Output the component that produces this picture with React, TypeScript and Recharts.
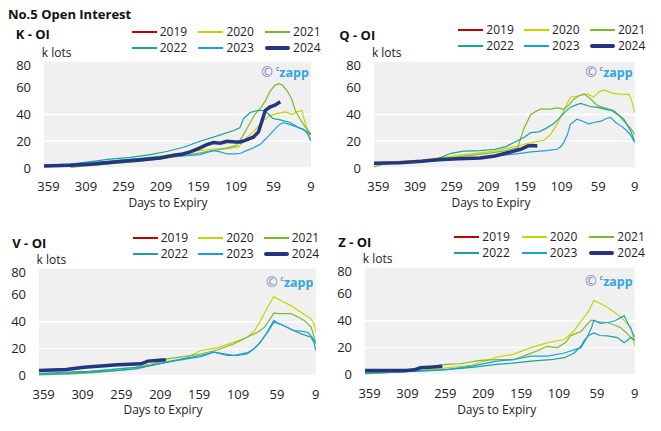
import { CartesianGrid, Line, LineChart, XAxis, YAxis } from 'recharts';

type Pt = [number, number];

const YEARS = ['2019', '2020', '2021', '2022', '2023', '2024'];
const COLORS = ['#c00000', '#c8d400', '#7cb82f', '#17a596', '#1c9fe0', '#253580'];
const X_TICKS = [359, 309, 259, 209, 159, 109, 59, 9];
const Y_TICKS = [0, 20, 40, 60, 80];

// [days to expiry, k lots]
const K_2019: Pt[] = [];
const K_2020: Pt[] = [[365, 1.5], [330, 2.5], [300, 3.5], [270, 5], [240, 7], [209, 9], [180, 11], [160, 13], [140, 14], [120, 14.5], [105, 16], [99, 20.7], [86, 27], [72, 35.6], [64, 39], [55, 40.6], [43, 42], [34, 40], [28, 42], [21, 43], [17, 34], [9, 21]];
const K_2021: Pt[] = [[330, 0.5], [300, 2], [270, 3.5], [240, 5], [209, 7], [180, 9], [160, 11], [140, 13], [120, 15], [108, 17], [100, 24], [92, 32], [84, 40], [76, 45], [70, 50], [64, 57], [57, 62], [52, 63], [47, 62], [40, 57], [35, 52], [30, 43], [24, 37], [17, 31], [9, 25]];
const K_2022: Pt[] = [[365, 2], [330, 3], [300, 5], [280, 6.5], [250, 8], [223, 10], [200, 12.5], [179, 15.5], [157, 20], [134, 24], [112, 28], [104, 30], [99, 37], [90, 41.5], [80, 43], [72, 43], [65, 40], [60, 37], [50, 36], [37, 34], [28, 31], [21, 29], [15, 27.5], [9, 25]];
const K_2023: Pt[] = [[365, 2], [330, 3], [300, 4], [270, 5.5], [240, 7], [209, 8.5], [180, 9], [157, 10], [145, 12], [139, 13], [130, 12], [121, 10.5], [110, 10.5], [103, 11], [95, 13], [86, 15], [76, 18], [68, 22.5], [59, 28], [52, 32], [46, 34], [40, 33], [32, 31.5], [25, 30], [19, 29], [14, 26], [9, 20]];
const K_2024: Pt[] = [[365, 1.5], [330, 2], [300, 3], [281, 4], [260, 5], [237, 6], [210, 7.5], [192, 9.5], [180, 10.5], [170, 12], [157, 15], [148, 17.5], [139, 19], [130, 18.5], [121, 20], [110, 19.5], [103, 19.5], [95, 21], [86, 23], [79, 27], [75, 34], [70, 43], [64, 45.6], [57, 47], [50, 49.5]];

const Q_2019: Pt[] = [];
const Q_2020: Pt[] = [[365, 4], [330, 5], [300, 6], [270, 8], [243, 10], [209, 12], [180, 15], [165, 17], [151, 19], [140, 20], [133, 20.7], [124, 25], [115, 33], [106, 42.8], [97, 52.9], [85, 54], [74, 55.4], [65, 53], [58, 57], [51, 58.4], [40, 56], [33, 55.4], [25, 55], [17, 55], [13, 50], [9, 41.5]];
const Q_2021: Pt[] = [[365, 1], [350, 3], [330, 4], [300, 5.5], [270, 7], [240, 9], [209, 11], [185, 13], [169, 15], [165, 22], [160, 30], [151, 40], [145, 42], [138, 44], [125, 44], [115, 45], [106, 44], [99, 47], [92, 51.6], [85, 54], [78, 55.4], [70, 52], [60, 46.6], [50, 45], [37, 42.8], [30, 39], [24, 35], [15, 30], [9, 25]];
const Q_2022: Pt[] = [[365, 3], [330, 4], [300, 5.5], [280, 6.5], [270, 8.8], [260, 11], [243, 12.6], [220, 13], [200, 14], [185, 16], [174, 19], [160, 23], [151, 26.4], [140, 27], [129, 30], [120, 33], [111, 37.8], [104, 42], [97, 45.3], [90, 47], [83, 48.3], [70, 46], [60, 45.3], [50, 44], [40, 42.8], [30, 39], [24, 36.5], [15, 28], [9, 20]];
const Q_2023: Pt[] = [[365, 3.5], [330, 4.5], [300, 5], [270, 5.5], [240, 7], [209, 8.5], [180, 10], [165, 11], [151, 12], [130, 13], [115, 14], [110, 16], [106, 19], [101, 25], [97, 32.7], [88, 36.5], [80, 35], [72, 33], [65, 34], [55, 35], [48, 37], [42, 37.8], [35, 34], [28, 31.5], [20, 28], [14, 24], [9, 19]];
const Q_2024: Pt[] = [[365, 3.5], [330, 4], [300, 5], [275, 6.3], [250, 7], [220, 7.5], [200, 9], [188, 10.6], [174, 12.6], [165, 14], [155, 16.4], [148, 16.8], [142, 16.5]];

const V_2019: Pt[] = [];
const V_2020: Pt[] = [[365, 1.5], [330, 2], [300, 3], [270, 4.5], [243, 6], [209, 10], [179, 12], [157, 18.6], [136, 20.6], [114, 24.8], [97, 28.5], [88, 33], [80, 40.9], [71, 50.8], [63, 58.8], [58, 57], [54, 55.8], [41, 52], [28, 47], [15, 42], [11, 38], [9, 32]];
const V_2021: Pt[] = [[365, 0.5], [330, 1], [300, 2], [286, 2.5], [260, 4], [243, 5], [220, 8], [200, 12.4], [179, 14], [157, 16], [136, 19], [114, 23.6], [93, 29.8], [84, 32], [75, 36], [69, 41], [63, 46.4], [55, 46], [41, 46], [30, 43], [24, 41], [15, 36], [9, 24.8]];
const V_2022: Pt[] = [[365, 1], [330, 1.5], [300, 2.5], [270, 3.5], [240, 5], [220, 7.5], [200, 10], [179, 12.5], [157, 14.9], [140, 17.4], [123, 14.9], [110, 15], [97, 16], [84, 22.3], [71, 32], [63, 39.7], [58, 39], [50, 37], [40, 34], [28, 31], [15, 28.5], [11, 24], [9, 18.6]];
const V_2023: Pt[] = [[365, 1.5], [330, 2.5], [300, 3], [270, 4.5], [240, 6], [220, 7.5], [200, 10], [179, 12], [157, 14], [140, 17.4], [125, 16], [114, 15], [97, 17], [90, 19], [80, 24.8], [72, 32], [63, 41], [58, 39], [50, 37], [37, 33.5], [28, 33], [19, 32], [13, 28], [9, 23.6]];
const V_2024: Pt[] = [[365, 3.7], [330, 4.5], [307, 6.2], [285, 7], [264, 8], [234, 8.7], [228, 10], [225, 10.7], [202, 11.7]];

const Z_2019: Pt[] = [];
const Z_2020: Pt[] = [[365, 1], [330, 1.5], [300, 2.5], [270, 4], [257, 5], [224, 7], [191, 13], [170, 15], [146, 20], [124, 23.7], [102, 26], [90, 32], [80, 39.5], [70, 47], [63, 55], [55, 53], [45, 50], [35, 46], [27, 42.5], [14, 35], [9, 21]];
const Z_2021: Pt[] = [[365, 0.5], [330, 1.5], [300, 2.5], [285, 3], [280, 6], [276, 6.2], [257, 7.5], [240, 8], [213, 10.5], [190, 11], [169, 11], [150, 15], [138, 17.5], [125, 21], [111, 20], [100, 24], [94, 28.7], [80, 32], [67, 40.5], [55, 39], [45, 38.7], [28, 35], [20, 31], [14, 27.5], [9, 26]];
const Z_2022: Pt[] = [[365, 1], [330, 1.5], [300, 2.5], [280, 2.8], [250, 4], [224, 5.3], [191, 7.5], [170, 8.5], [146, 10], [120, 11], [102, 12.5], [89, 16], [80, 21], [76, 25], [70, 29], [63, 31], [55, 29], [45, 28.7], [32, 27.5], [23, 23.7], [14, 27.5], [9, 25]];
const Z_2023: Pt[] = [[365, 1.5], [330, 2], [300, 2.5], [280, 3], [257, 3.7], [224, 6.2], [191, 10], [170, 11], [146, 13.7], [124, 13.7], [102, 16], [80, 20], [72, 27.5], [66, 35], [63, 40.5], [55, 38], [45, 38.7], [35, 40], [27, 42.5], [23, 43.7], [18, 38], [14, 33.7], [9, 27.5]];
const Z_2024: Pt[] = [[365, 3], [310, 3], [300, 3.5], [292, 5], [275, 5.5], [263, 6.2]];

const PANELS = [
  {
    title: 'K - OI',
    series: [K_2019, K_2020, K_2021, K_2022, K_2023, K_2024],
    plot: { x: 43.8, y: 60.5, w: 267, h: 107 },
    titleAt: [15.7, 34.3],
    legendAt: [131.7, 32, 48],
    legendGap: 66.7,
    xTitleAt: [168, 203.3],
    wmTop: 8.8,
  },
  {
    title: 'Q - OI',
    series: [Q_2019, Q_2020, Q_2021, Q_2022, Q_2023, Q_2024],
    plot: { x: 373.9, y: 60.5, w: 260.8, h: 107 },
    titleAt: [339.3, 35],
    legendAt: [458.3, 30, 46],
    legendGap: 65.8,
    xTitleAt: [491, 202.7],
    wmTop: 8.2,
  },
  {
    title: 'V - OI',
    series: [V_2019, V_2020, V_2021, V_2022, V_2023, V_2024],
    plot: { x: 38.6, y: 267.5, w: 276.8, h: 107.5 },
    titleAt: [12.3, 243.3],
    legendAt: [132.7, 238, 254],
    legendGap: 65.5,
    xTitleAt: [163, 410],
    wmTop: 11,
  },
  {
    title: 'Z - OI',
    series: [Z_2019, Z_2020, Z_2021, Z_2022, Z_2023, Z_2024],
    plot: { x: 364.8, y: 267, w: 269.8, h: 107.5 },
    titleAt: [338.3, 242.3],
    legendAt: [454.3, 237, 253],
    legendGap: 67.5,
    xTitleAt: [496.7, 410],
    wmTop: 10.7,
  },
];

const toRows = (pts: Pt[]) => pts.map(([d, v]) => ({ d, v }));

function Label({ x, cy, children, style }: any) {
  return (
    <div style={{ position: 'absolute', left: x, top: cy - 8, lineHeight: '16px', whiteSpace: 'nowrap', ...style }}>
      {children}
    </div>
  );
}

function Panel({ cfg }: { cfg: (typeof PANELS)[number] }) {
  const { plot } = cfg;
  const YW = 40;
  const PAD = 4;
  const XH = 40;
  const [lx, r1, r2] = cfg.legendAt;
  return (
    <>
      <Label x={cfg.titleAt[0]} cy={cfg.titleAt[1]} style={{ fontWeight: 700, fontSize: 13 }}>
        {cfg.title}
      </Label>

      {YEARS.map((yr, i) => {
        const col = i % 3;
        const cy = i < 3 ? r1 : r2;
        const thick = i === 5;
        return (
          <div
            key={yr}
            style={{
              position: 'absolute',
              left: lx + col * cfg.legendGap,
              top: cy - 7,
              height: 14,
              lineHeight: '14px',
              display: 'flex',
              alignItems: 'center',
            }}
          >
            <div style={{ width: 25, height: thick ? 4 : 2, background: COLORS[i], borderRadius: thick ? 2 : 0 }} />
            <span style={{ fontSize: 12, marginLeft: 3, color: '#222' }}>{yr}</span>
          </div>
        );
      })}

      <Label x={plot.x - 2} cy={plot.y - 8} style={{ fontSize: 12, color: '#222' }}>
        k lots
      </Label>

      <div style={{ position: 'absolute', left: plot.x - YW, top: plot.y - PAD }}>
        <LineChart width={plot.w + YW + PAD} height={plot.h + PAD + XH} margin={{ top: PAD, right: PAD, bottom: 0, left: 0 }}>
          <CartesianGrid vertical={false} fill="#f0f0f0" stroke="#ffffff" strokeWidth={1.3} />
          <XAxis
            type="number"
            dataKey="d"
            domain={[9, 365]}
            reversed
            ticks={X_TICKS}
            interval={0}
            height={XH}
            tickLine={false}
            axisLine={false}
            tickSize={0}
            tickMargin={14}
            allowDataOverflow
            tick={{ fontSize: 13, fill: '#222' }}
          />
          <YAxis
            type="number"
            domain={[0, 80]}
            ticks={Y_TICKS}
            width={YW}
            tickLine={false}
            axisLine={false}
            tickSize={0}
            tickMargin={13}
            tick={{ fontSize: 13, fill: '#222' }}
          />
          {cfg.series.map((pts, i) => (
            <Line
              key={YEARS[i]}
              data={toRows(pts)}
              dataKey="v"
              stroke={COLORS[i]}
              strokeWidth={i === 5 ? 3.5 : 1.2}
              dot={false}
              isAnimationActive={false}
            />
          ))}
        </LineChart>
      </div>

      <div
        style={{
          position: 'absolute',
          left: plot.x + plot.w - 80,
          width: 78,
          top: plot.y + cfg.wmTop - 8,
          lineHeight: '16px',
          textAlign: 'right',
          whiteSpace: 'nowrap',
          overflow: 'hidden',
        }}
      >
        <span style={{ color: '#7f86c4', fontSize: 14 }}>©</span>
        <span style={{ color: '#3d4a8f', fontSize: 7, verticalAlign: 'super', marginLeft: 3 }}>c</span>
        <span style={{ color: '#33a6df', fontSize: 12.5, fontWeight: 700 }}>zapp</span>
      </div>

      <div
        style={{
          position: 'absolute',
          left: cfg.xTitleAt[0] - 60,
          width: 120,
          top: cfg.xTitleAt[1] - 8,
          lineHeight: '16px',
          textAlign: 'center',
          fontSize: 12,
          color: '#222',
        }}
      >
        Days to Expiry
      </div>
    </>
  );
}

export default function App() {
  return (
    <div
      style={{
        position: 'absolute',
        left: 0,
        top: 0,
        width: 661,
        height: 431,
        background: '#fff',
        fontFamily: '"Open Sans", sans-serif',
        color: '#111',
        overflow: 'hidden',
      }}
    >
      <Label x={8} cy={14} style={{ fontWeight: 700, fontSize: 13 }}>
        No.5 Open Interest
      </Label>
      {PANELS.map((p) => (
        <Panel key={p.title} cfg={p} />
      ))}
    </div>
  );
}
